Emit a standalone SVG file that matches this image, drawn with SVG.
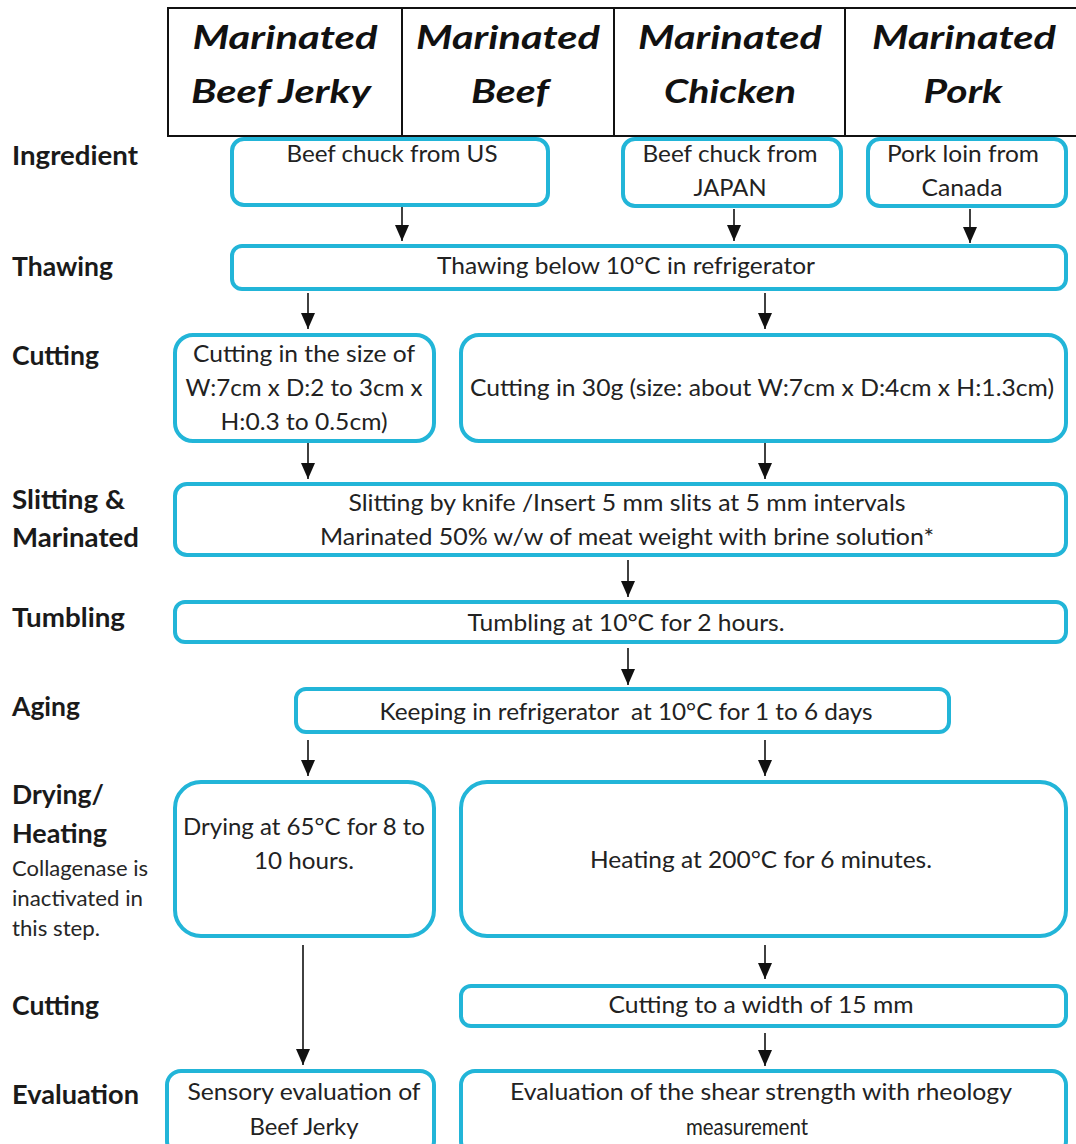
<svg xmlns="http://www.w3.org/2000/svg" width="1076" height="1144" viewBox="0 0 1076 1144">
  <defs>
    <style>
      .box { fill: #ffffff; stroke: #22b5d8; stroke-width: 4; }
      .txt { font-family: Lato, "Open Sans", "Liberation Sans", sans-serif; font-size: 23px; fill: #222; text-anchor: middle; }
      .lbl { font-family: Lato, "Open Sans", "Liberation Sans", sans-serif; font-size: 27px; font-weight: bold; fill: #1a1a1a; }
      .note { font-family: Lato, "Open Sans", "Liberation Sans", sans-serif; font-size: 21px; fill: #262626; }
      .hdr { font-family: Lato, "Open Sans", "Liberation Sans", sans-serif; font-size: 33px; font-weight: bold; font-style: italic; fill: #111; text-anchor: middle; }
      .grid { fill: none; stroke: #111; stroke-width: 2; }
      .arrow { stroke: #111; stroke-width: 1.6; fill: none; marker-end: url(#head); }
    </style>
    <!-- arrowhead drawn pointing along +x, tip at the line end -->
    <marker id="head" markerUnits="userSpaceOnUse" markerWidth="16" markerHeight="14" viewBox="0 0 16 14" refX="16" refY="7" orient="auto">
      <path d="M0,0 L16,7 L0,14 Z" fill="#111"/>
    </marker>
  </defs>

  <!-- product header table -->
  <g id="header">
    <rect class="grid" x="168" y="8" width="912" height="128"/>
    <line class="grid" x1="402" y1="8" x2="402" y2="136"/>
    <line class="grid" x1="614" y1="8" x2="614" y2="136"/>
    <line class="grid" x1="845" y1="8" x2="845" y2="136"/>
    <text class="hdr" x="285" y="49" textLength="185" lengthAdjust="spacingAndGlyphs">Marinated</text>
    <text class="hdr" x="281" y="103" textLength="180" lengthAdjust="spacingAndGlyphs">Beef Jerky</text>
    <text class="hdr" x="508" y="49" textLength="184" lengthAdjust="spacingAndGlyphs">Marinated</text>
    <text class="hdr" x="510" y="103" textLength="78" lengthAdjust="spacingAndGlyphs">Beef</text>
    <text class="hdr" x="730" y="49" textLength="184" lengthAdjust="spacingAndGlyphs">Marinated</text>
    <text class="hdr" x="730" y="103" textLength="132" lengthAdjust="spacingAndGlyphs">Chicken</text>
    <text class="hdr" x="964" y="49" textLength="184" lengthAdjust="spacingAndGlyphs">Marinated</text>
    <text class="hdr" x="963" y="103" textLength="79" lengthAdjust="spacingAndGlyphs">Pork</text>
  </g>

  <!-- step labels -->
  <g id="labels">
    <text class="lbl" x="12" y="165" textLength="126" lengthAdjust="spacingAndGlyphs">Ingredient</text>
    <text class="lbl" x="12" y="276" textLength="101" lengthAdjust="spacingAndGlyphs">Thawing</text>
    <text class="lbl" x="12" y="365" textLength="87" lengthAdjust="spacingAndGlyphs">Cutting</text>
    <text class="lbl" x="12" y="509" textLength="113" lengthAdjust="spacingAndGlyphs">Slitting &amp;</text>
    <text class="lbl" x="12" y="547" textLength="127" lengthAdjust="spacingAndGlyphs">Marinated</text>
    <text class="lbl" x="12" y="627" textLength="113" lengthAdjust="spacingAndGlyphs">Tumbling</text>
    <text class="lbl" x="12" y="716" textLength="68" lengthAdjust="spacingAndGlyphs">Aging</text>
    <text class="lbl" x="12" y="804" textLength="92" lengthAdjust="spacingAndGlyphs">Drying/</text>
    <text class="lbl" x="12" y="843" textLength="95" lengthAdjust="spacingAndGlyphs">Heating</text>
    <text class="note" x="12" y="876" textLength="136" lengthAdjust="spacingAndGlyphs">Collagenase is</text>
    <text class="note" x="12" y="906" textLength="131" lengthAdjust="spacingAndGlyphs">inactivated in</text>
    <text class="note" x="12" y="936" textLength="88" lengthAdjust="spacingAndGlyphs">this step.</text>
    <text class="lbl" x="12" y="1015" textLength="87" lengthAdjust="spacingAndGlyphs">Cutting</text>
    <text class="lbl" x="12" y="1104" textLength="127" lengthAdjust="spacingAndGlyphs">Evaluation</text>
  </g>

  <!-- connectors -->
  <g id="connectors">
    <line class="arrow" x1="402" y1="207" x2="402" y2="241"/>
    <line class="arrow" x1="734" y1="209" x2="734" y2="241"/>
    <line class="arrow" x1="970" y1="209" x2="970" y2="243"/>
    <line class="arrow" x1="308" y1="293" x2="308" y2="329"/>
    <line class="arrow" x1="765" y1="293" x2="765" y2="329"/>
    <line class="arrow" x1="308" y1="443" x2="308" y2="479"/>
    <line class="arrow" x1="765" y1="443" x2="765" y2="479"/>
    <line class="arrow" x1="628" y1="560" x2="628" y2="597"/>
    <line class="arrow" x1="628" y1="648" x2="628" y2="685"/>
    <line class="arrow" x1="308" y1="740" x2="308" y2="776"/>
    <line class="arrow" x1="765" y1="740" x2="765" y2="776"/>
    <line class="arrow" x1="303" y1="945" x2="303" y2="1065"/>
    <line class="arrow" x1="765" y1="945" x2="765" y2="979"/>
    <line class="arrow" x1="765" y1="1033" x2="765" y2="1066"/>
  </g>

  <!-- ingredient -->
  <g id="ingredient-us">
    <rect class="box" x="232" y="139" width="316" height="66" rx="12"/>
    <text class="txt" x="392" y="162" textLength="211" lengthAdjust="spacingAndGlyphs">Beef chuck from US</text>
  </g>
  <g id="ingredient-japan">
    <rect class="box" x="623" y="139" width="218" height="67" rx="12"/>
    <text class="txt" x="730" y="162" textLength="175" lengthAdjust="spacingAndGlyphs">Beef chuck from</text>
    <text class="txt" x="730" y="196" textLength="73" lengthAdjust="spacingAndGlyphs">JAPAN</text>
  </g>
  <g id="ingredient-canada">
    <rect class="box" x="868" y="139" width="198" height="67" rx="12"/>
    <text class="txt" x="963" y="162" textLength="152" lengthAdjust="spacingAndGlyphs">Pork loin from</text>
    <text class="txt" x="962" y="196" textLength="81" lengthAdjust="spacingAndGlyphs">Canada</text>
  </g>

  <!-- thawing -->
  <g id="thawing">
    <rect class="box" x="232" y="246" width="834" height="43" rx="10"/>
    <text class="txt" x="626" y="274" textLength="378" lengthAdjust="spacingAndGlyphs">Thawing below 10°C in refrigerator</text>
  </g>

  <!-- cutting -->
  <g id="cutting-jerky">
    <rect class="box" x="175" y="335" width="259" height="106" rx="18"/>
    <text class="txt" x="304" y="362" textLength="222" lengthAdjust="spacingAndGlyphs">Cutting in the size of</text>
    <text class="txt" x="304" y="396" textLength="237" lengthAdjust="spacingAndGlyphs">W:7cm x D:2 to 3cm x</text>
    <text class="txt" x="304" y="430" textLength="167" lengthAdjust="spacingAndGlyphs">H:0.3 to 0.5cm)</text>
  </g>
  <g id="cutting-30g">
    <rect class="box" x="461" y="335" width="605" height="106" rx="18"/>
    <text class="txt" x="762" y="396" textLength="584" lengthAdjust="spacingAndGlyphs">Cutting in 30g (size: about W:7cm x D:4cm x H:1.3cm)</text>
  </g>

  <!-- slitting and marinating -->
  <g id="slitting">
    <rect class="box" x="175" y="484" width="891" height="71" rx="12"/>
    <text class="txt" x="627" y="511" textLength="557" lengthAdjust="spacingAndGlyphs">Slitting by knife /Insert 5 mm slits at 5 mm intervals</text>
    <text class="txt" x="627" y="545" textLength="614" lengthAdjust="spacingAndGlyphs">Marinated 50% w/w of meat weight with brine solution*</text>
  </g>

  <!-- tumbling -->
  <g id="tumbling">
    <rect class="box" x="175" y="602" width="891" height="40" rx="10"/>
    <text class="txt" x="626" y="631" textLength="317" lengthAdjust="spacingAndGlyphs">Tumbling at 10°C for 2 hours.</text>
  </g>

  <!-- aging -->
  <g id="aging">
    <rect class="box" x="296" y="689" width="653" height="43" rx="10"/>
    <text class="txt" x="626" y="720" textLength="493" lengthAdjust="spacingAndGlyphs" xml:space="preserve">Keeping in refrigerator  at 10°C for 1 to 6 days</text>
  </g>

  <!-- drying / heating -->
  <g id="drying">
    <rect class="box" x="175" y="782" width="259" height="154" rx="26"/>
    <text class="txt" x="304" y="835" textLength="242" lengthAdjust="spacingAndGlyphs">Drying at 65°C for 8 to</text>
    <text class="txt" x="304" y="869" textLength="100" lengthAdjust="spacingAndGlyphs">10 hours.</text>
  </g>
  <g id="heating">
    <rect class="box" x="461" y="782" width="605" height="154" rx="26"/>
    <text class="txt" x="761" y="868" textLength="342" lengthAdjust="spacingAndGlyphs">Heating at 200°C for 6 minutes.</text>
  </g>

  <!-- cutting to width -->
  <g id="cutting-width">
    <rect class="box" x="461" y="986" width="605" height="40" rx="10"/>
    <text class="txt" x="761" y="1013" textLength="305" lengthAdjust="spacingAndGlyphs">Cutting to a width of 15 mm</text>
  </g>

  <!-- evaluation -->
  <g id="eval-sensory">
    <rect class="box" x="167" y="1071" width="267" height="84" rx="14"/>
    <text class="txt" x="304" y="1100" textLength="233" lengthAdjust="spacingAndGlyphs">Sensory evaluation of</text>
    <text class="txt" x="304" y="1135" textLength="109" lengthAdjust="spacingAndGlyphs">Beef Jerky</text>
  </g>
  <g id="eval-shear">
    <rect class="box" x="461" y="1071" width="605" height="84" rx="14"/>
    <text class="txt" x="761" y="1100" textLength="502" lengthAdjust="spacingAndGlyphs">Evaluation of the shear strength with rheology</text>
    <text class="txt" x="747" y="1135" textLength="122" lengthAdjust="spacingAndGlyphs">measurement</text>
  </g>
</svg>
